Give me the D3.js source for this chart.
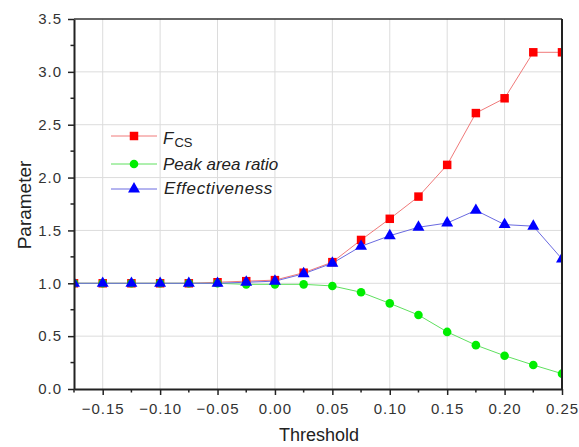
<!DOCTYPE html>
<html>
<head>
<meta charset="utf-8">
<script src="https://cdn.jsdelivr.net/npm/d3@7"></script>
<style>
  html, body { margin: 0; padding: 0; background: #fff; }
  svg { display: block; font-family: "Liberation Sans", Arial, sans-serif; }
</style>
</head>
<body>
<svg id="chart" width="579" height="447"></svg>
<script>
// Threshold values along the x axis
const thresholds = [-0.175, -0.15, -0.125, -0.1, -0.075, -0.05, -0.025, 0, 0.025, 0.05,
                    0.075, 0.1, 0.125, 0.15, 0.175, 0.2, 0.225, 0.25];
// Series values
const fcs = [1.0, 1.0, 1.0, 1.0, 1.0, 1.01, 1.02, 1.03, 1.10, 1.20,
             1.41, 1.61, 1.82, 2.12, 2.61, 2.75, 3.185, 3.185];
const peakArea = [1.0, 1.0, 1.0, 1.0, 1.0, 1.0, 0.99, 0.99, 0.99, 0.975,
                  0.915, 0.81, 0.70, 0.54, 0.415, 0.315, 0.227, 0.145];
const effectiveness = [1.0, 1.0, 1.0, 1.0, 1.0, 1.0, 1.01, 1.02, 1.09, 1.19,
                       1.35, 1.45, 1.53, 1.57, 1.69, 1.555, 1.54, 1.23];
// Tick values
const xTicks = [-0.15, -0.10, -0.05, 0.00, 0.05, 0.10, 0.15, 0.20, 0.25];
const yTicks = [0.0, 0.5, 1.0, 1.5, 2.0, 2.5, 3.0, 3.5];

const series = [
  { name: "Fcs", values: fcs, line: "#f07a7a", fill: "#ff0000", shape: "square" },
  { name: "Peak area ratio", values: peakArea, line: "#5fe05f", fill: "#00ee00", shape: "circle" },
  { name: "Effectiveness", values: effectiveness, line: "#6a6ae0", fill: "#0000ff", shape: "triangle" }
];

const svg = d3.select("#chart");
const m = { left: 74, right: 562, top: 19, bottom: 389 };

const x = d3.scaleLinear().domain([-0.175, 0.25]).range([m.left, m.right]);
const y = d3.scaleLinear().domain([0, 3.5]).range([m.bottom, m.top]);

// Grid lines
const grid = svg.append("g");
grid.selectAll("line.gx").data(xTicks.filter(d => d < 0.25)).enter().append("line")
  .attr("x1", d => x(d)).attr("x2", d => x(d))
  .attr("y1", m.top).attr("y2", m.bottom)
  .attr("stroke", "#dcdcdc").attr("stroke-width", 1);
grid.selectAll("line.gy").data(yTicks.filter(d => d > 0 && d < 3.5)).enter().append("line")
  .attr("x1", m.left).attr("x2", m.right)
  .attr("y1", d => y(d)).attr("y2", d => y(d))
  .attr("stroke", "#dcdcdc").attr("stroke-width", 1);

// Clip region for the data
svg.append("clipPath").attr("id", "plotClip").append("rect")
  .attr("x", m.left).attr("y", m.top)
  .attr("width", m.right - m.left).attr("height", m.bottom - m.top);

const plot = svg.append("g").attr("clip-path", "url(#plotClip)");
const lineGen = d3.line().x((d, i) => x(thresholds[i])).y(d => y(d));

const symSquare = d3.symbol().type(d3.symbolSquare).size(72);
const symCircle = d3.symbol().type(d3.symbolCircle).size(58);
const symTriangle = d3.symbol().type(d3.symbolTriangle).size(62);
const symFor = s => s === "square" ? symSquare() : s === "circle" ? symCircle() : symTriangle();

series.forEach(s => {
  plot.append("path").datum(s.values)
    .attr("d", lineGen)
    .attr("fill", "none")
    .attr("stroke", s.line)
    .attr("stroke-width", 1);
});
series.forEach(s => {
  plot.selectAll(null).data(s.values).enter().append("path")
    .attr("d", symFor(s.shape))
    .attr("transform", (d, i) => `translate(${x(thresholds[i])},${y(d)})`)
    .attr("fill", s.fill);
});

// Axes
const xAxis = d3.axisBottom(x).tickValues(xTicks).tickFormat(d3.format(".2f")).tickSize(6).tickSizeOuter(0);
const yAxis = d3.axisLeft(y).tickValues(yTicks).tickFormat(d3.format(".1f")).tickSize(6).tickSizeOuter(0);

const gx = svg.append("g").attr("transform", `translate(0,${m.bottom})`).call(xAxis);
const gy = svg.append("g").attr("transform", `translate(${m.left},0)`).call(yAxis);

// Minor ticks
const xMinor = d3.range(-0.175, 0.25, 0.05).map(v => +v.toFixed(3));
gx.selectAll("line.minor").data(xMinor).enter().append("line")
  .attr("x1", d => x(d)).attr("x2", d => x(d)).attr("y1", 0).attr("y2", 3.5)
  .attr("stroke", "#222").attr("stroke-width", 1.5);
const yMinor = d3.range(0.25, 3.5, 0.5);
gy.selectAll("line.minor").data(yMinor).enter().append("line")
  .attr("y1", d => y(d)).attr("y2", d => y(d)).attr("x1", 0).attr("x2", -3.5)
  .attr("stroke", "#222").attr("stroke-width", 1.5);

[gx, gy].forEach(g => {
  g.select(".domain").attr("stroke", "#222").attr("stroke-width", 2);
  g.selectAll(".tick line").attr("stroke", "#222").attr("stroke-width", 1.5);
  g.selectAll(".tick text").attr("fill", "#333").style("font-size", "15px")
    .style("letter-spacing", "1px")
    .style("font-family", "'Liberation Sans', Arial, sans-serif");
});
gx.selectAll(".tick text").attr("y", 25).attr("dy", 0)
  .text(d => d < 0 ? "\u2212" + d3.format(".2f")(-d) : d3.format(".2f")(d));
gy.selectAll(".tick text").attr("x", -12);

// Top and right frame lines
svg.append("line").attr("x1", m.left).attr("x2", m.right).attr("y1", m.top).attr("y2", m.top)
  .attr("stroke", "#333").attr("stroke-width", 1.5);
svg.append("line").attr("x1", m.right).attr("x2", m.right).attr("y1", m.top).attr("y2", m.bottom)
  .attr("stroke", "#222").attr("stroke-width", 2);

// Axis titles
svg.append("text").attr("x", 319).attr("y", 441)
  .attr("text-anchor", "middle").attr("fill", "#222").style("font-size", "18px")
  .text("Threshold");
svg.append("text").attr("transform", `translate(30.5,${(m.top + m.bottom) / 2 + 1}) rotate(-90)`)
  .attr("text-anchor", "middle").attr("fill", "#222").style("font-size", "19px")
  .text("Parameter");

// Legend
const legend = svg.append("g");
const legendRows = [136, 164, 189];
series.forEach((s, i) => {
  const ly = legendRows[i];
  legend.append("line").attr("x1", 111).attr("x2", 157).attr("y1", ly).attr("y2", ly)
    .attr("stroke", s.line).attr("stroke-width", 1);
  legend.append("path").attr("d", symFor(s.shape))
    .attr("transform", `translate(134,${ly})`).attr("fill", s.fill);
});
const lt0 = legend.append("text").attr("x", 163).attr("y", 144)
  .attr("fill", "#222").style("font-size", "17px");
lt0.append("tspan").style("font-style", "italic").text("F");
lt0.append("tspan").attr("dy", 3).attr("dx", 1).style("font-size", "13px").text("CS");
legend.append("text").attr("x", 163).attr("y", 170)
  .attr("fill", "#222").style("font-size", "17px").style("font-style", "italic")
  .text("Peak area ratio");
legend.append("text").attr("x", 164).attr("y", 194)
  .attr("fill", "#222").style("font-size", "17px").style("font-style", "italic")
  .style("letter-spacing", "0.6px")
  .text("Effectiveness");
</script>
</body>
</html>
